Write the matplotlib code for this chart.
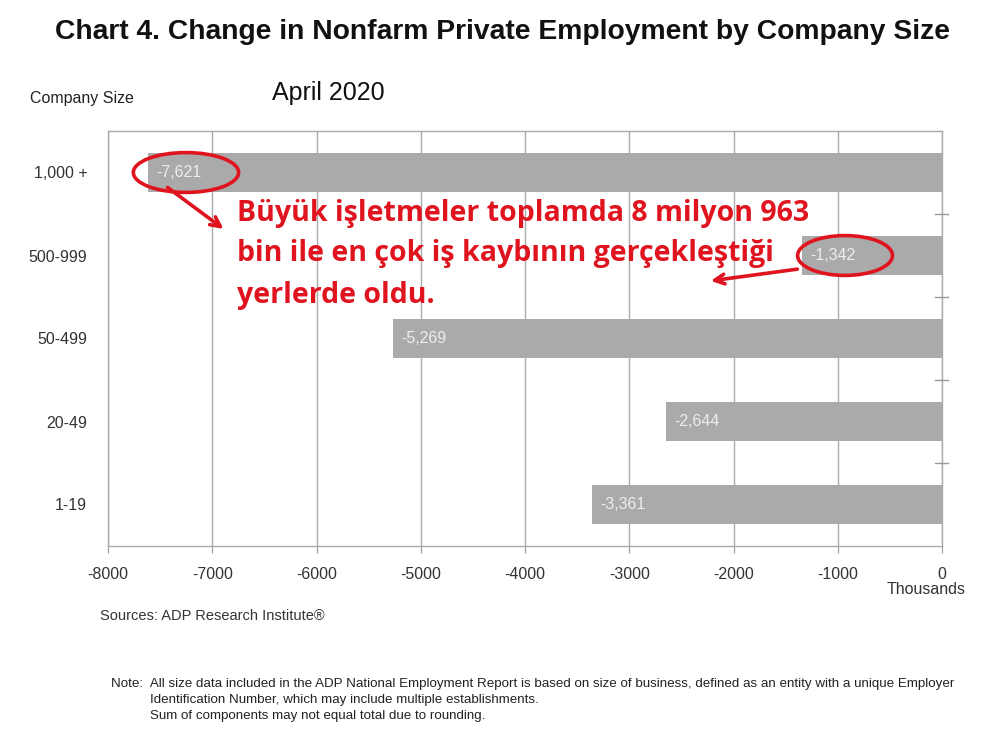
import matplotlib.pyplot as plt
from matplotlib.patches import Ellipse

# data (thousands of jobs, April 2020)
sizes = ['1-19', '20-49', '50-499', '500-999', '1,000 +']
change = [-3361, -2644, -5269, -1342, -7621]
value_labels = ['-3,361', '-2,644', '-5,269', '-1,342', '-7,621']
x_ticks = [-8000, -7000, -6000, -5000, -4000, -3000, -2000, -1000, 0]

plt.rcParams['font.family'] = ['Liberation Sans', 'DejaVu Sans']

fig = plt.figure(figsize=(9.97, 7.38), dpi=100)
ax = fig.add_axes([108 / 997, 1 - 546 / 738, 834 / 997, 415 / 738])

grey = '#aaaaaa'
ypos = list(range(len(sizes)))
ax.barh(ypos, change, height=0.48, color=grey, zorder=2)

for y, v, lab in zip(ypos, change, value_labels):
    ax.text(v + 80, y, lab, color='#eeeeee', fontsize=11.5, va='center', ha='left', zorder=3)

ax.set_xlim(-8000, 0)
ax.set_ylim(-0.5, len(sizes) - 0.5)
ax.set_xticks(x_ticks)
ax.set_xticklabels([str(t) for t in x_ticks], fontsize=11.5, color='#333333')
ax.set_yticks(ypos)
ax.set_yticklabels(sizes, fontsize=11.5, color='#333333')
ax.tick_params(axis='y', length=0, pad=15)
ax.tick_params(axis='x', length=5, color='#999999', pad=10)
ax.grid(axis='x', color='#aaaaaa', linewidth=1, zorder=0)

for s in ['top', 'left', 'bottom', 'right']:
    ax.spines[s].set_color('#aaaaaa')
    ax.spines[s].set_linewidth(1)

# small ticks on the right spine between categories
for b in [0.5, 1.5, 2.5, 3.5]:
    ax.plot([-70, 60], [b, b], color='#999999', lw=1, clip_on=False, zorder=3)

# titles and notes
fig.text(0.504, 1 - 32 / 738, 'Chart 4. Change in Nonfarm Private Employment by Company Size',
         ha='center', va='center', fontsize=20.3, fontweight='bold', color='#111111')
fig.text(272 / 997, 1 - 93 / 738, 'April 2020', ha='left', va='center', fontsize=18, color='#111111')
fig.text(30 / 997, 1 - 98 / 738, 'Company Size', ha='left', va='center', fontsize=11.5, color='#222222')
fig.text(926 / 997, 1 - 590 / 738, 'Thousands', ha='center', va='center', fontsize=11.5, color='#333333')
fig.text(100 / 997, 1 - 616 / 738, 'Sources: ADP Research Institute®', ha='left', va='center',
         fontsize=10.5, color='#333333')
note_kw = dict(ha='left', va='center', fontsize=9.6, color='#222222')
fig.text(111 / 997, 1 - 684 / 738,
         'Note:  All size data included in the ADP National Employment Report is based on size of business, '
         'defined as an entity with a unique Employer', **note_kw)
fig.text(150 / 997, 1 - 700 / 738, 'Identification Number, which may include multiple establishments.', **note_kw)
fig.text(150 / 997, 1 - 716 / 738, 'Sum of components may not equal total due to rounding.', **note_kw)

# red annotation
red = '#e0141e'
ax.add_patch(Ellipse((-7252, 4), 1010, 0.48, fill=False, edgecolor=red, lw=2.6, zorder=4, clip_on=False))
ax.add_patch(Ellipse((-930, 3), 910, 0.48, fill=False, edgecolor=red, lw=2.6, zorder=4, clip_on=False))
arrow_kw = dict(arrowstyle='->,head_length=0.7,head_width=0.35', color=red, lw=2.6)
ax.annotate('', xy=(-6870, 3.3), xytext=(-7450, 3.84), arrowprops=arrow_kw, zorder=4)
ax.annotate('', xy=(-2245, 2.69), xytext=(-1362, 2.84), arrowprops=arrow_kw, zorder=4)
red_lines = ['Büyük işletmeler toplamda 8 milyon 963',
             'bin ile en çok iş kaybının gerçekleştiği',
             'yerlerde oldu.']
for i, line in enumerate(red_lines):
    fig.text(237 / 997, 1 - (213 + 41 * i) / 738, line, ha='left', va='center', fontsize=20.5,
             fontweight='bold', color=red, family=['Open Sans', 'DejaVu Sans'])

fig.savefig('out.png', dpi=100)
